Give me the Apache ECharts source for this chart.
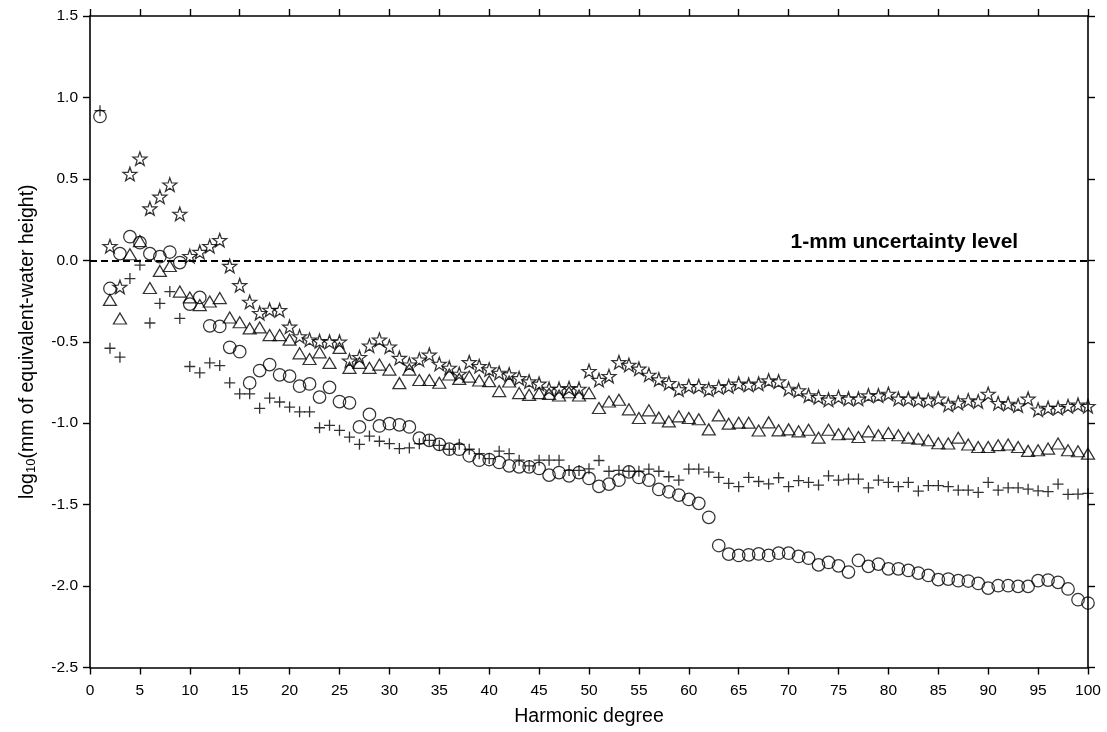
<!DOCTYPE html>
<html lang="en">
<head>
  <meta charset="UTF-8">
  <title>Degree spectra</title>
  <script src="https://cdn.jsdelivr.net/npm/echarts@6/dist/echarts.min.js"></script>
  <style>
    * { margin: 0; padding: 0; box-sizing: border-box; }
    body { background: #fff; }
    #chart { width: 1107px; height: 732px; }
  </style>
</head>
<body>
  <div id="chart"></div>
  <script>
    // harmonic degrees 1..100
    var degrees = Array.from({ length: 100 }, function (_, i) { return i + 1; });
    var yTicks = [-2.5, -2.0, -1.5, -1.0, -0.5, 0.0, 0.5, 1.0, 1.5];

    // log10 values per degree
    var stars = [null, 0.087, -0.163, 0.530, 0.624, 0.318, 0.39, 0.465, 0.285, 0.026,
      0.051, 0.087, 0.124, -0.035, -0.153, -0.255, -0.324, -0.304, -0.306, -0.408,
      -0.467, -0.487, -0.497, -0.5, -0.5, -0.616, -0.595, -0.524, -0.487, -0.53,
      -0.6, -0.64, -0.61, -0.58, -0.636, -0.66, -0.697, -0.626, -0.65, -0.67,
      -0.691, -0.701, -0.724, -0.744, -0.758, -0.789, -0.789, -0.785, -0.789, -0.68,
      -0.735, -0.711, -0.626, -0.642, -0.666, -0.703, -0.732, -0.754, -0.793, -0.773,
      -0.773, -0.793, -0.779, -0.773, -0.758, -0.764, -0.758, -0.738, -0.744, -0.789,
      -0.799, -0.83, -0.84, -0.856, -0.84, -0.85, -0.85, -0.83, -0.83, -0.82,
      -0.85, -0.85, -0.856, -0.86, -0.85, -0.887, -0.875, -0.86, -0.866, -0.82,
      -0.877, -0.881, -0.891, -0.85, -0.917, -0.907, -0.907, -0.895, -0.887, -0.895];

    var triangles = [null, -0.243, -0.357, 0.037, 0.118, -0.17, -0.065, -0.035, -0.192, -0.228,
      -0.275, -0.253, -0.232, -0.351, -0.38, -0.418, -0.412, -0.459, -0.459, -0.487,
      -0.571, -0.606, -0.565, -0.63, -0.538, -0.66, -0.63, -0.66, -0.64, -0.671,
      -0.754, -0.671, -0.735, -0.735, -0.752, -0.701, -0.728, -0.714, -0.738, -0.742,
      -0.803, -0.744, -0.815, -0.826, -0.815, -0.82, -0.83, -0.81, -0.83, -0.815,
      -0.907, -0.867, -0.856, -0.915, -0.968, -0.921, -0.966, -0.989, -0.958, -0.968,
      -0.976, -1.038, -0.952, -1.003, -0.997, -0.997, -1.045, -0.995, -1.044, -1.038,
      -1.05, -1.04, -1.089, -1.04, -1.068, -1.064, -1.085, -1.05, -1.074, -1.06,
      -1.074, -1.089, -1.095, -1.105, -1.123, -1.125, -1.089, -1.131, -1.146, -1.146,
      -1.135, -1.131, -1.146, -1.17, -1.166, -1.156, -1.125, -1.166, -1.172, -1.187];

    var circles = [0.883, -0.173, 0.041, 0.145, 0.108, 0.041, 0.022, 0.051, -0.014, -0.269,
      -0.228, -0.402, -0.406, -0.534, -0.561, -0.753, -0.677, -0.64, -0.703, -0.711,
      -0.773, -0.759, -0.84, -0.78, -0.867, -0.875, -1.023, -0.946, -1.017, -1.003,
      -1.01, -1.023, -1.092, -1.105, -1.13, -1.16, -1.16, -1.2, -1.227, -1.223,
      -1.241, -1.262, -1.268, -1.268, -1.278, -1.319, -1.303, -1.323, -1.303, -1.339,
      -1.388, -1.374, -1.35, -1.299, -1.333, -1.35, -1.407, -1.421, -1.441, -1.468,
      -1.492, -1.578, -1.751, -1.804, -1.812, -1.808, -1.803, -1.812, -1.798, -1.798,
      -1.818, -1.829, -1.87, -1.855, -1.876, -1.914, -1.843, -1.879, -1.865, -1.894,
      -1.894, -1.904, -1.92, -1.935, -1.96, -1.957, -1.967, -1.969, -1.984, -2.012,
      -1.998, -1.998, -2.002, -2.002, -1.967, -1.963, -1.977, -2.018, -2.084, -2.104];

    var pluses = [0.919, -0.54, -0.595, -0.112, -0.029, -0.385, -0.265, -0.192, -0.357, -0.652,
      -0.691, -0.63, -0.646, -0.752, -0.82, -0.82, -0.909, -0.846, -0.87, -0.901,
      -0.93, -0.93, -1.028, -1.013, -1.044, -1.085, -1.13, -1.079, -1.111, -1.126,
      -1.156, -1.152, -1.126, -1.105, -1.136, -1.16, -1.13, -1.16, -1.187, -1.217,
      -1.172, -1.187, -1.227, -1.262, -1.227, -1.227, -1.227, -1.29, -1.29, -1.28,
      -1.229, -1.295, -1.29, -1.295, -1.295, -1.282, -1.295, -1.329, -1.35, -1.282,
      -1.282, -1.3, -1.333, -1.37, -1.39, -1.333, -1.358, -1.373, -1.335, -1.39,
      -1.353, -1.364, -1.38, -1.323, -1.35, -1.343, -1.343, -1.397, -1.35, -1.364,
      -1.39, -1.364, -1.417, -1.383, -1.383, -1.39, -1.411, -1.411, -1.425, -1.364,
      -1.411, -1.397, -1.397, -1.405, -1.415, -1.42, -1.374, -1.437, -1.435, -1.431];

    var FONT = "'Liberation Sans', Arial, Helvetica, sans-serif";
    var STAR = 'path://M10,0 L12.35,6.76 L19.51,6.91 L13.8,11.24 L15.88,18.09 L10,14 L4.12,18.09 L6.2,11.24 L0.49,6.91 L7.65,6.76 Z';
    var PLUS = 'path://M5,0 L5,10 M0,5 L10,5';

    function pairs(arr) {
      var out = [];
      arr.forEach(function (v, i) { if (v !== null) out.push([degrees[i], v]); });
      return out;
    }

    var hollow = { color: 'rgba(0,0,0,0)', borderColor: '#000', borderWidth: 1.25 };

    var axisCommon = {
      axisLine: { onZero: false, lineStyle: { color: '#000', width: 1.6 } },
      axisTick: { length: 7, lineStyle: { color: '#000', width: 1.4 } },
      splitLine: { show: false }
    };

    var chartDom = document.getElementById('chart');
    var myChart = echarts.init(chartDom, null, { renderer: 'canvas' });

    var option = {
      animation: false,
      backgroundColor: '#fff',
      textStyle: { fontFamily: FONT },
      grid: { left: 90, top: 16, right: 19, bottom: 64.5 },
      xAxis: [
        Object.assign({}, axisCommon, {
          type: 'value', position: 'bottom', min: 0, max: 100, interval: 5,
          axisLabel: { color: '#000', fontSize: 15.5, margin: 15, fontFamily: FONT },
          name: 'Harmonic degree', nameLocation: 'middle', nameGap: 39,
          nameTextStyle: { color: '#000', fontSize: 19.5, fontFamily: FONT }
        }),
        Object.assign({}, axisCommon, {
          type: 'value', position: 'top', min: 0, max: 100, interval: 5,
          axisLabel: { show: false }
        })
      ],
      yAxis: [
        Object.assign({}, axisCommon, {
          type: 'value', position: 'left', min: yTicks[0], max: yTicks[yTicks.length - 1], interval: 0.5,
          axisLabel: {
            color: '#000', fontSize: 15.5, margin: 12, fontFamily: FONT,
            formatter: function (v) { return v.toFixed(1); }
          },
          name: '{a|log}{s|10}{a|(mm of equivalent-water height)}',
          nameLocation: 'middle', nameGap: 52,
          nameTextStyle: {
            color: '#000', fontFamily: FONT,
            rich: {
              a: { fontSize: 19.5, color: '#000', fontFamily: FONT },
              s: { fontSize: 13, color: '#000', fontFamily: FONT, padding: [7, 0, 0, 0] }
            }
          }
        }),
        Object.assign({}, axisCommon, {
          type: 'value', position: 'right', min: yTicks[0], max: yTicks[yTicks.length - 1], interval: 0.5,
          axisLabel: { show: false }
        })
      ],
      series: [
        {
          name: 'stars', type: 'scatter', symbol: STAR, symbolSize: [14, 13.5],
          itemStyle: hollow, data: pairs(stars),
          markLine: {
            silent: true, symbol: 'none', label: { show: false },
            lineStyle: { color: '#000', width: 2, type: [7, 4] },
            data: [{ yAxis: 0 }]
          }
        },
        {
          name: 'triangles', type: 'scatter', symbol: 'triangle', symbolSize: [13, 11],
          itemStyle: hollow, data: pairs(triangles)
        },
        {
          name: 'circles', type: 'scatter', symbol: 'circle', symbolSize: 12.5,
          itemStyle: hollow, data: pairs(circles)
        },
        {
          name: 'pluses', type: 'scatter', symbol: PLUS, symbolSize: 11,
          itemStyle: { color: 'rgba(0,0,0,0)', borderColor: '#000', borderWidth: 1.3 },
          data: pairs(pluses)
        }
      ]
    };

    myChart.setOption(option);

    // label for the dashed reference line, anchored in data space
    var p = myChart.convertToPixel({ xAxisIndex: 0, yAxisIndex: 0 }, [93.0, 0]);
    myChart.setOption({
      graphic: [{
        type: 'text', x: p[0], y: p[1] - 8,
        style: {
          text: '1-mm uncertainty level', fill: '#000',
          font: 'bold 21px ' + FONT, textAlign: 'right', textVerticalAlign: 'bottom'
        }
      }]
    });

    window.addEventListener('resize', function () { myChart.resize(); });
  </script>
</body>
</html>
